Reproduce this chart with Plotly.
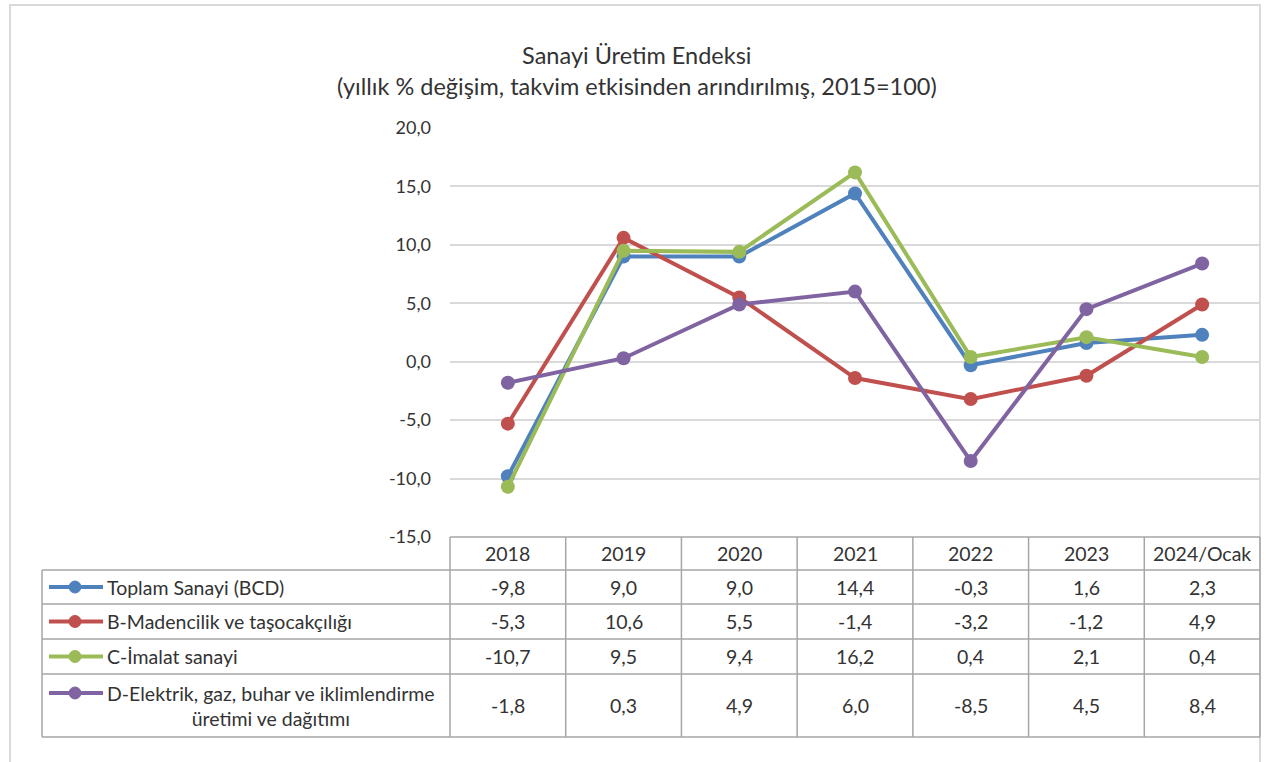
import plotly.graph_objects as go

years = ["2018", "2019", "2020", "2021", "2022", "2023", "2024/Ocak"]

toplam = [-9.8, 9.0, 9.0, 14.4, -0.3, 1.6, 2.3]
madencilik = [-5.3, 10.6, 5.5, -1.4, -3.2, -1.2, 4.9]
imalat = [-10.7, 9.5, 9.4, 16.2, 0.4, 2.1, 0.4]
elektrik = [-1.8, 0.3, 4.9, 6.0, -8.5, 4.5, 8.4]

series_names = [
    "Toplam Sanayi (BCD)",
    "B-Madencilik ve taşocakçılığı",
    "C-İmalat sanayi",
    "D-Elektrik, gaz, buhar ve iklimlendirme<br>üretimi ve dağıtımı",
]
y_ticks = [-15, -10, -5, 0, 5, 10, 15, 20]
y_tick_labels = ["-15,0", "-10,0", "-5,0", "0,0", "5,0", "10,0", "15,0", "20,0"]

colors = ["#4F81BD", "#C0504D", "#9BBB59", "#8064A2"]
all_series = [toplam, madencilik, imalat, elektrik]

W, H = 1266, 762
FONT = "Lato"
TXT = "#333333"
GRID = "#D9D9D9"
TBL = "#A6A6A6"
TSIZE = 19.5


def px_x(p):
    return p / W


def px_y(p):
    return 1 - p / H


# pixel layout of plot area / data table
plot_left, plot_right = 450, 1260
plot_top, plot_bottom = 128, 537
table_left = 42
row_edges = [537, 570, 604, 639, 674, 737]

fig = go.Figure()

for name, vals, col in zip(series_names, all_series, colors):
    fig.add_trace(go.Scatter(
        x=years, y=vals, name=name, mode="lines+markers",
        line=dict(color=col, width=4),
        marker=dict(color=col, size=14),
        hoverinfo="x+y",
    ))

shapes = []
annotations = []

# outer chart border
shapes.append(dict(type="rect", xref="paper", yref="paper",
                   x0=px_x(10), x1=px_x(1260), y0=px_y(5), y1=-0.05,
                   line=dict(color=GRID, width=2), layer="below"))

# table horizontal lines
shapes.append(dict(type="line", xref="paper", yref="paper",
                   x0=px_x(plot_left), x1=px_x(plot_right),
                   y0=px_y(row_edges[0]), y1=px_y(row_edges[0]),
                   line=dict(color=TBL, width=1.5)))
for ry in row_edges[1:]:
    shapes.append(dict(type="line", xref="paper", yref="paper",
                       x0=px_x(table_left), x1=px_x(plot_right),
                       y0=px_y(ry), y1=px_y(ry),
                       line=dict(color=TBL, width=1.5)))
# table vertical lines
shapes.append(dict(type="line", xref="paper", yref="paper",
                   x0=px_x(table_left), x1=px_x(table_left),
                   y0=px_y(row_edges[1]), y1=px_y(row_edges[-1]),
                   line=dict(color=TBL, width=1.5)))
col_w = (plot_right - plot_left) / len(years)
for i in range(len(years) + 1):
    cx = plot_left + i * col_w
    shapes.append(dict(type="line", xref="paper", yref="paper",
                       x0=px_x(cx), x1=px_x(cx),
                       y0=px_y(row_edges[0]), y1=px_y(row_edges[-1]),
                       line=dict(color=TBL, width=1.5)))

# header row (x given as category index)
for i, yr in enumerate(years):
    annotations.append(dict(x=i, xref="x", y=px_y((row_edges[0] + row_edges[1]) / 2),
                            yref="paper", text=yr, showarrow=False,
                            xanchor="center", yanchor="middle",
                            font=dict(size=TSIZE, color=TXT, family=FONT)))

# data rows
for r, (name, vals, col) in enumerate(zip(series_names, all_series, colors)):
    top, bot = row_edges[r + 1], row_edges[r + 2]
    cy = (top + bot) / 2
    key_y = cy if r < 3 else top + 19
    # legend key
    shapes.append(dict(type="line", xref="paper", yref="paper",
                       x0=px_x(49), x1=px_x(103), y0=px_y(key_y), y1=px_y(key_y),
                       line=dict(color=col, width=4)))
    shapes.append(dict(type="circle", xref="paper", yref="paper",
                       x0=px_x(69), x1=px_x(81), y0=px_y(key_y - 6), y1=px_y(key_y + 6),
                       fillcolor=col, line=dict(color=col, width=1)))
    annotations.append(dict(x=px_x(105), xref="paper", y=px_y(cy), yref="paper",
                            text=name, showarrow=False, xanchor="left", yanchor="middle",
                            align="center",
                            font=dict(size=TSIZE, color=TXT, family=FONT)))
    for i, v in enumerate(vals):
        annotations.append(dict(x=i, xref="x", y=px_y(cy), yref="paper",
                                text=f"{v:.1f}".replace(".", ","), showarrow=False,
                                xanchor="center", yanchor="middle",
                                font=dict(size=TSIZE, color=TXT, family=FONT)))

fig.update_layout(
    width=W, height=H, autosize=False,
    margin=dict(l=0, r=0, t=0, b=0, pad=0, autoexpand=False),
    paper_bgcolor="white", plot_bgcolor="white",
    showlegend=False,
    font=dict(family=FONT, color=TXT, size=18),
    title=dict(text="Sanayi Üretim Endeksi<br>(yıllık % değişim, takvim etkisinden arındırılmış, 2015=100)",
               x=0.503, xanchor="center", y=px_y(64), yanchor="middle",
               font=dict(size=23.5, color=TXT, family=FONT)),
    xaxis=dict(type="category", domain=[px_x(plot_left), px_x(plot_right)],
               range=[-0.5, 6.5], automargin=False,
               showticklabels=False, showgrid=False, zeroline=False, showline=False),
    yaxis=dict(domain=[px_y(plot_bottom), px_y(plot_top)], range=[-15, 20],
               tickvals=y_ticks, ticktext=y_tick_labels, automargin=False,
               showgrid=True, gridcolor=GRID, gridwidth=1.5,
               zeroline=False, showline=False, ticks="", ticklabelstandoff=18,
               tickfont=dict(size=18, color=TXT, family=FONT)),
    shapes=shapes,
    annotations=annotations,
)

fig.write_html("out.html", config={"displayModeBar": False},
               post_script="document.body.style.margin='0';")
